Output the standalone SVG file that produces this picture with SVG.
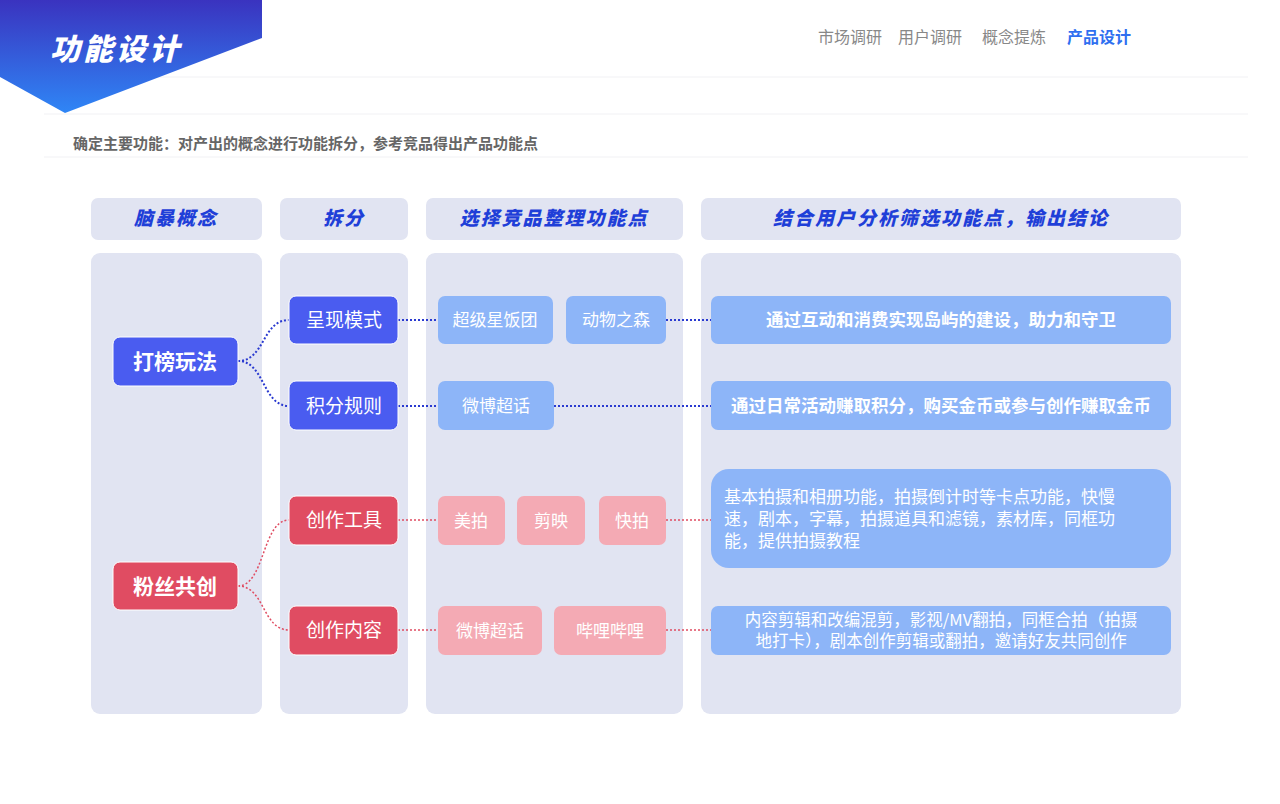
<svg xmlns="http://www.w3.org/2000/svg" width="1280" height="804" viewBox="0 0 1280 804">
<defs>
<linearGradient id="hg" x1="0" y1="0" x2="0" y2="1"><stop offset="0" stop-color="#3a33bf"/><stop offset="1" stop-color="#2f86f6"/></linearGradient>
<style>
.t{font-family:"Noto Sans CJK SC","Noto Sans",sans-serif}
.panel{fill:#e1e4f2}
.hd{font-family:"Noto Sans CJK SC",sans-serif;font-weight:900;font-style:italic;font-size:19px;fill:#1f3fd8;text-anchor:middle;letter-spacing:2px}
.bn{fill:#4a5cf0;stroke:#fff;stroke-width:1}
.rn{fill:#e04c62;stroke:#fff;stroke-width:1}
.lb{fill:#8db5f8}
.pk{fill:#f4aab4}
.w{fill:#fff;font-family:"Noto Sans CJK SC",sans-serif;text-anchor:middle}
.ws{fill:#fff;font-family:"Noto Sans CJK SC",sans-serif;text-anchor:start}
.cb{fill:none;stroke:#2a3ad0;stroke-width:2;stroke-dasharray:2 2}
.cr{fill:none;stroke:#e04c62;stroke-width:1.5;stroke-dasharray:2 2}
</style>
</defs>
<rect width="1280" height="804" fill="#fff"/>
<g stroke="#f1f1f4" stroke-width="1"><line x1="44" y1="77" x2="1248" y2="77"/><line x1="44" y1="114" x2="1248" y2="114"/><line x1="44" y1="157" x2="1248" y2="157"/></g>
<polygon points="0,0 262,0 262,38 65,113 0,77" fill="url(#hg)"/>
<text x="50" y="60" class="t" font-size="30" font-weight="900" font-style="italic" fill="#fff" letter-spacing="3">功能设计</text>
<g class="t" font-size="16" fill="#888">
<text x="818" y="43">市场调研</text><text x="898" y="43">用户调研</text><text x="982" y="43">概念提炼</text>
<text x="1067" y="43" fill="#2f6ff0" font-weight="bold">产品设计</text></g>
<text x="73" y="149" class="t" font-size="15" font-weight="bold" fill="#666">确定主要功能：对产出的概念进行功能拆分，参考竞品得出产品功能点</text>
<g id="panels">
<rect class="panel" x="91" y="198" width="171" height="42" rx="7"/>
<rect class="panel" x="280" y="198" width="128" height="42" rx="7"/>
<rect class="panel" x="426" y="198" width="257" height="42" rx="7"/>
<rect class="panel" x="701" y="198" width="480" height="42" rx="7"/>
<rect class="panel" x="91" y="253" width="171" height="461" rx="9"/>
<rect class="panel" x="280" y="253" width="128" height="461" rx="9"/>
<rect class="panel" x="426" y="253" width="257" height="461" rx="9"/>
<rect class="panel" x="701" y="253" width="480" height="461" rx="9"/>
<text class="hd" x="176" y="225">脑暴概念</text>
<text class="hd" x="344" y="225">拆分</text>
<text class="hd" x="554" y="225">选择竞品整理功能点</text>
<text class="hd" x="941" y="225">结合用户分析筛选功能点，输出结论</text>
</g>
<g id="connectors">
<path class="cb" d="M238,361 C265,361 262,320 289,320"/>
<path class="cb" d="M238,361 C265,361 262,406 289,406"/>
<path class="cb" d="M398,320 H438 M666,320 H711"/>
<path class="cb" d="M398,406 H438 M554,406 H711"/>
<path class="cr" d="M238,586 C265,586 262,520 289,520"/>
<path class="cr" d="M238,586 C265,586 262,630 289,630"/>
<path class="cr" d="M398,520 H438 M666,520 H711"/>
<path class="cr" d="M398,630 H438 M666,630 H711"/>
</g>
<g id="n1"><rect class="bn" x="113" y="337" width="125" height="49" rx="7"/><text class="w" x="175" y="369" font-size="21" font-weight="bold">打榜玩法</text></g>
<g id="n2"><rect class="rn" x="113" y="562" width="125" height="48" rx="7"/><text class="w" x="175" y="594" font-size="21" font-weight="bold">粉丝共创</text></g>
<g id="n3"><rect class="bn" x="289" y="296" width="109" height="48" rx="7"/><text class="w" x="344" y="327" font-size="19">呈现模式</text></g>
<g id="n4"><rect class="bn" x="289" y="381" width="109" height="49" rx="7"/><text class="w" x="344" y="413" font-size="19">积分规则</text></g>
<g id="n5"><rect class="rn" x="289" y="496" width="109" height="49" rx="7"/><text class="w" x="344" y="527" font-size="19">创作工具</text></g>
<g id="n6"><rect class="rn" x="289" y="606" width="109" height="49" rx="7"/><text class="w" x="344" y="637" font-size="19">创作内容</text></g>
<g id="c1"><rect class="lb" x="438" y="296" width="115" height="48" rx="7"/><text class="w" x="495" y="326" font-size="17">超级星饭团</text></g>
<g id="c2"><rect class="lb" x="566" y="296" width="100" height="48" rx="7"/><text class="w" x="616" y="326" font-size="17">动物之森</text></g>
<g id="c3"><rect class="lb" x="438" y="381" width="116" height="49" rx="7"/><text class="w" x="496" y="412" font-size="17">微博超话</text></g>
<g id="c4"><rect class="pk" x="438" y="496" width="67" height="49" rx="7"/><text class="w" x="471" y="527" font-size="17">美拍</text></g>
<g id="c5"><rect class="pk" x="517" y="496" width="68" height="49" rx="7"/><text class="w" x="551" y="527" font-size="17">剪映</text></g>
<g id="c6"><rect class="pk" x="599" y="496" width="67" height="49" rx="7"/><text class="w" x="632" y="527" font-size="17">快拍</text></g>
<g id="c7"><rect class="pk" x="438" y="606" width="104" height="49" rx="7"/><text class="w" x="490" y="637" font-size="17">微博超话</text></g>
<g id="c8"><rect class="pk" x="554" y="606" width="112" height="49" rx="7"/><text class="w" x="610" y="637" font-size="17">哔哩哔哩</text></g>
<g id="o1"><rect class="lb" x="711" y="296" width="460" height="48" rx="7"/><text class="w" x="941" y="326" font-size="17.5" font-weight="bold">通过互动和消费实现岛屿的建设，助力和守卫</text></g>
<g id="o2"><rect class="lb" x="711" y="381" width="460" height="49" rx="7"/><text class="w" x="941" y="412" font-size="17.5" font-weight="bold">通过日常活动赚取积分，购买金币或参与创作赚取金币</text></g>
<g id="o3"><rect class="lb" x="711" y="469" width="460" height="99" rx="18"/><text class="ws" x="724" y="503" font-size="17"><tspan x="724">基本拍摄和相册功能，拍摄倒计时等卡点功能，快慢</tspan><tspan x="724" dy="22">速，剧本，字幕，拍摄道具和滤镜，素材库，同框功</tspan><tspan x="724" dy="22">能，提供拍摄教程</tspan></text></g>
<g id="o4"><rect class="lb" x="711" y="606" width="460" height="49" rx="7"/><text class="w" x="941" y="626" font-size="16.5"><tspan x="941">内容剪辑和改编混剪，影视/MV翻拍，同框合拍（拍摄</tspan><tspan x="941" dy="21">地打卡），剧本创作剪辑或翻拍，邀请好友共同创作</tspan></text></g>
</svg>
